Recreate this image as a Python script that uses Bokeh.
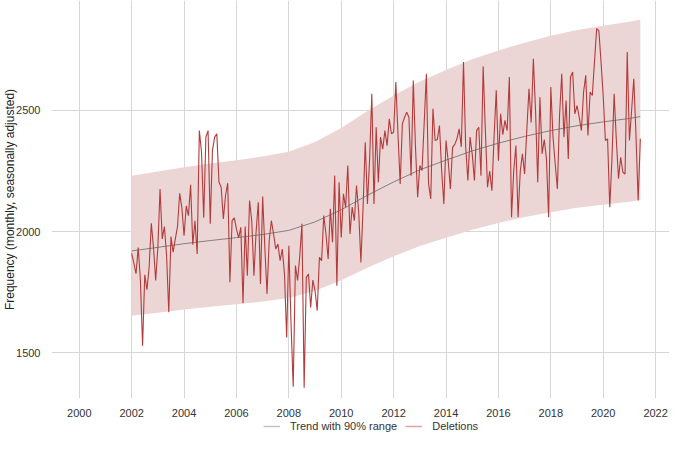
from bokeh.plotting import figure
from bokeh.layouts import column
from bokeh.models import FixedTicker, Legend, LegendItem, Range1d
from bokeh.embed import file_html
from bokeh.resources import INLINE

# Monthly deletions, Jan 2002 .. Jun 2021 (seasonally adjusted)
start_year = 2002
deletions = [
    1910, 1870, 1826, 1934, 1800, 1529, 1822, 1760, 1853, 2034, 1935, 1798,
    1935, 2176, 1970, 2021, 1900, 1667, 1979, 1915, 1970, 2021, 2158, 2098,
    1983, 2106, 2066, 2193, 1946, 2045, 1908, 2417, 2328, 2057, 2390, 2417,
    2032, 2335, 2390, 2404, 2204, 2183, 2052, 2150, 2200, 1791, 2045, 2057,
    2010, 1974, 2018, 1704, 2021, 1818, 2128, 2045, 1818, 2000, 2121, 1784,
    2145, 1935, 1743, 1963, 2045, 1990, 1928, 1949, 1880, 1928, 1825, 1563,
    1942, 1619, 1360, 1860, 1798, 1900, 2032, 1355, 1811, 1825, 1687, 1800,
    1756, 1674, 1894, 1880, 2066, 1990, 1887, 2094, 1956, 2231, 1777, 2204,
    1976, 2156, 2100, 2273, 1990, 2101, 2045, 2190, 2080, 1873, 2100, 2369,
    2114, 2300, 2569, 2114, 2431, 2204, 2390, 2340, 2417, 2355, 2466, 2404,
    2410, 2617, 2400, 2197, 2445, 2472, 2493, 2472, 2231, 2624, 2350, 2142,
    2273, 2252, 2450, 2652, 2197, 2135, 2507, 2376, 2380, 2438, 2250, 2114,
    2376, 2290, 2176, 2348, 2360, 2383, 2424, 2350, 2700, 2350, 2211, 2390,
    2320, 2211, 2417, 2431, 2231, 2682, 2420, 2183, 2250, 2169, 2390, 2583,
    2293, 2486, 2400, 2459, 2417, 2638, 2059, 2250, 2355, 2059, 2250, 2321,
    2238, 2420, 2590, 2450, 2713, 2500, 2204, 2555, 2321, 2380, 2300, 2059,
    2597, 2390, 2280, 2176, 2480, 2652, 2390, 2541, 2300, 2638, 2659, 2486,
    2520, 2472, 2417, 2576, 2645, 2397, 2576, 2562, 2700, 2838, 2830, 2700,
    2560, 2376, 2383, 2101, 2300, 2569, 2380, 2218, 2307, 2245, 2238, 2741,
    2376, 2500, 2631, 2400, 2128, 2383,
]
months = [start_year + i / 12 for i in range(len(deletions))]

# Trend with 90% range (read at yearly points)
trend_x = [2002, 2003, 2004, 2005, 2006, 2007, 2008, 2009, 2010, 2011, 2012,
           2013, 2014, 2015, 2016, 2017, 2018, 2019, 2020, 2021, 2021.417]
trend = [1920, 1935, 1950, 1963, 1975, 1988, 2005, 2040, 2090, 2150, 2205,
         2255, 2295, 2333, 2365, 2393, 2417, 2437, 2453, 2467, 2475]
upper = [2231, 2248, 2266, 2281, 2295, 2310, 2330, 2370, 2428, 2498, 2562,
         2620, 2667, 2711, 2748, 2780, 2808, 2832, 2850, 2866, 2876]
lower = [1653, 1665, 1678, 1690, 1700, 1711, 1726, 1756, 1799, 1851, 1898,
         1941, 1975, 2008, 2036, 2060, 2080, 2098, 2111, 2123, 2130]

x_ticks = list(range(2000, 2023, 2))
y_ticks = [1500, 2000, 2500]
legend_labels = ["Trend with 90% range", "Deletions"]

FONT = "Liberation Sans"
RED = "#b23b3b"
GRID = "#d6d6d6"

p = figure(width=669, height=419, x_range=(1998.94, 2022.53), y_range=(1311, 2954),
           output_backend="svg", toolbar_location=None,
           min_border_left=40, min_border_right=0, min_border_top=0, min_border_bottom=21)
p.outline_line_color = None
p.background_fill_color = "white"

p.varea(x=trend_x, y1=lower, y2=upper, fill_color="#ecd5d5", fill_alpha=1.0)
p.line(x=trend_x, y=trend, line_color="#808080", line_width=1)
p.line(x=months, y=deletions, line_color=RED, line_width=1.1)

p.xaxis.ticker = FixedTicker(ticks=x_ticks)
p.yaxis.ticker = FixedTicker(ticks=y_ticks)
for ax in (p.xaxis, p.yaxis):
    ax.axis_line_color = None
    ax.major_tick_line_color = None
    ax.minor_tick_line_color = None
    ax.major_label_text_font = FONT
    ax.major_label_text_font_size = "11px"
    ax.major_label_text_color = "#333333"
    ax.major_label_standoff = 5
p.xaxis.major_label_standoff = 4
p.yaxis.axis_label = "Frequency (monthly, seasonally adjusted)"
p.yaxis.axis_label_text_font = FONT
p.yaxis.axis_label_text_font_size = "12px"
p.yaxis.axis_label_text_font_style = "normal"
p.yaxis.axis_label_text_color = "#222222"
p.yaxis.axis_label_standoff = -4

p.xgrid.ticker = FixedTicker(ticks=x_ticks)
p.ygrid.ticker = FixedTicker(ticks=y_ticks)
p.xgrid.grid_line_color = GRID
p.ygrid.grid_line_color = GRID

# legend strip below the chart (its renderers sit outside the strip's visible range)
lg = figure(width=669, height=14, x_range=Range1d(0, 1), y_range=Range1d(0, 1),
            output_backend="svg", toolbar_location=None,
            min_border_left=0, min_border_right=0, min_border_top=0, min_border_bottom=0)
lg.axis.visible = False
lg.grid.visible = False
lg.outline_line_color = None
r_trend = lg.line(x=[-5, -4], y=[-5, -4], line_color="#c4c4c4", line_width=1.5)
r_del = lg.line(x=[-5, -4], y=[-5, -4], line_color="#e0a3a3", line_width=1.5)
legend = Legend(items=[LegendItem(label=legend_labels[0], renderers=[r_trend]),
                       LegendItem(label=legend_labels[1], renderers=[r_del])],
                orientation="horizontal", location=(212, 0),
                glyph_width=17, glyph_height=14, label_standoff=10, spacing=8,
                padding=0, margin=0, border_line_color=None, background_fill_alpha=0,
                label_text_font=FONT, label_text_font_size="11px", label_text_color="#333333",
                label_height=14)
lg.add_layout(legend, "center")

layout = column(p, lg, spacing=0)
open("out.html", "w").write(file_html(layout, INLINE))
